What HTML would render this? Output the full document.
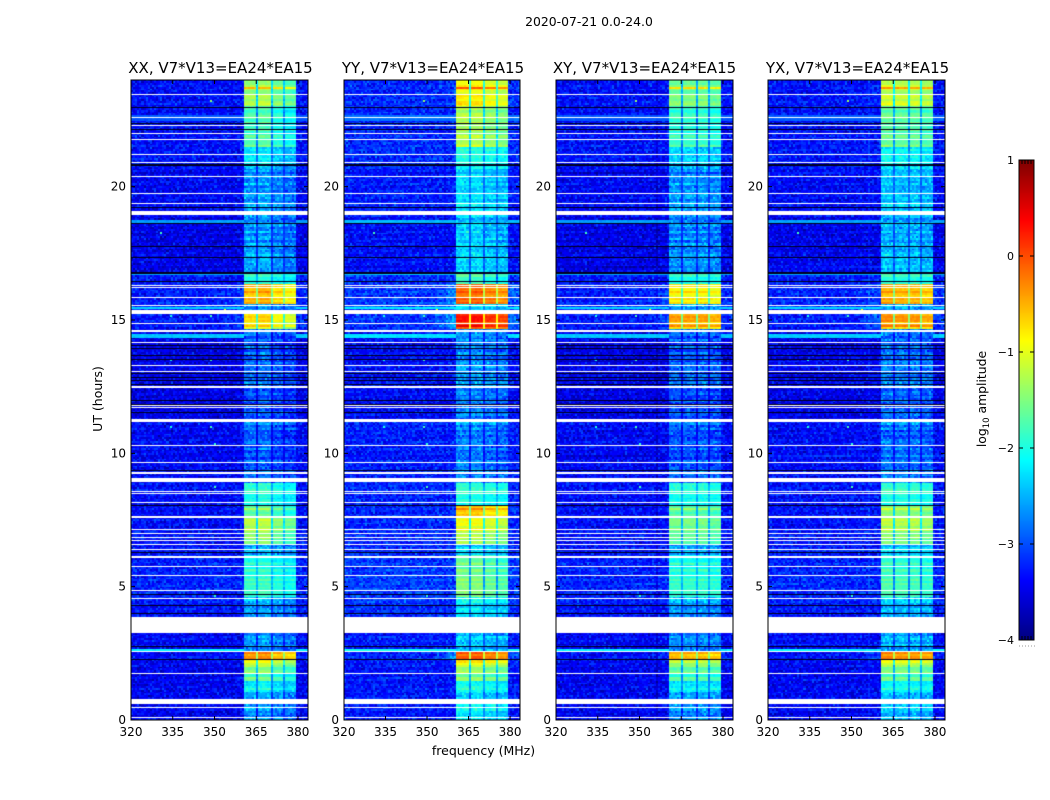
<!DOCTYPE html>
<html lang="en">
<head>
<meta charset="utf-8">
<title>2020-07-21 dynamic spectra</title>
<style>
html,body{margin:0;padding:0;background:#fff;}
#figure{position:relative;width:1050px;height:800px;overflow:hidden;background:#fff;font-family:"DejaVu Sans","Liberation Sans",sans-serif;}
canvas{position:absolute;top:80px;}
svg{position:absolute;left:0;top:0;}
text{fill:#000;font-family:"DejaVu Sans","Liberation Sans",sans-serif;}
</style>
</head>
<body>
<div id="figure">
<svg id="overlay" width="1050" height="800">
<text x="589" y="26" font-size="12.4" text-anchor="middle">2020-07-21 0.0-24.0</text>
<text x="483.5" y="755" font-size="12.5" text-anchor="middle">frequency (MHz)</text>
<text transform="translate(102,399) rotate(-90)" font-size="12.5" text-anchor="middle">UT (hours)</text>
<text transform="translate(986,399) rotate(-90)" font-size="12.4" text-anchor="middle">log<tspan font-size="8.5" dy="3">10</tspan><tspan dy="-3"> amplitude</tspan></text>
</svg>
</div>
<script>
// ---- data: polarisation panels ----
const panelNames = ['XX', 'YY', 'XY', 'YX'];
const baselineLabel = 'V7*V13=EA24*EA15';
const xTicks = [320, 335, 350, 365, 380];
const yTicks = [0, 5, 10, 15, 20];
const colorbarTicks = [1, 0, -1, -2, -3, -4];

// start of each time segment (UT hours); last entry closes the final segment
const segmentStart = [0, 0.8, 1.1, 1.45, 1.75, 2.05, 2.3, 2.6, 3.86, 4.6, 6.2, 6.6, 7.1, 7.6, 8.05, 8.85, 9.4, 11.1, 11.3, 14.55, 14.65, 15.2, 15.6, 16.35, 16.8, 18.9, 20.8, 21.5, 23, 24];

// log10 amplitude in the 360-380 MHz bands, per segment
const bandXX = [-2.7, -2.65, -2.2, -1.75, -1.5, -1.05, -0.4, -2.7, -2.6, -1.95, -2.5, -1.55, -1.3, -1.6, -2.0, -2.9, -2.95, -2.7, -2.95, -2.6, -0.9, -2.6, -0.55, -2.0, -2.65, -2.6, -2.35, -1.8, -1.4];
const bandYY = [-2.25, -2.45, -2.1, -1.6, -1.4, -0.9, -0.2, -2.45, -2.25, -1.65, -2.35, -1.4, -1.05, -0.6, -2.0, -2.8, -2.8, -2.55, -2.75, -2.55, 0.05, -2.25, -0.2, -1.9, -2.4, -2.3, -2.1, -1.35, -0.95];
const bandXY = [-2.7, -2.65, -2.2, -1.8, -1.6, -1.25, -0.55, -2.7, -2.6, -1.95, -2.5, -1.7, -1.55, -1.6, -2.0, -2.9, -2.95, -2.7, -2.95, -2.6, -0.55, -2.5, -0.8, -2.0, -2.7, -2.6, -2.4, -1.85, -1.55];
const bandYX = [-2.45, -2.5, -2.1, -1.7, -1.5, -1.05, -0.35, -2.55, -2.45, -1.85, -2.35, -1.55, -1.25, -1.35, -1.95, -2.8, -2.85, -2.6, -2.85, -2.55, -0.5, -2.45, -0.5, -1.95, -2.5, -2.4, -2.2, -1.65, -1.2];

// out-of-band background and the rise toward the band edge, per segment
const backgroundLevel = [-3.45, -3.45, -3.45, -3.45, -3.45, -3.4, -3.35, -3.4, -3.3, -3.25, -3.3, -3.35, -3.35, -3.35, -3.35, -3.4, -3.4, -3.35, -3.5, -3.3, -3.3, -3.2, -3.25, -3.3, -3.5, -3.4, -3.35, -3.35, -3.35];
const shoulderLevel = [0, 0, 0, 0, 0, 0.1, 0.5, 0, 0, 0, 0, 0, 0, 0.1, 0, 0, 0, 0, 0, 0, 0.6, 0.3, 0.4, 0, 0, 0, 0, 0, 0.1];

// per-panel offsets
const panelBackgroundOffset = [0, 0.14, 0, 0.03];
const panelShoulderScale = [0.35, 1.0, 0.4, 0.5];
const subBandOffsetXX = [0.05, 0.1, -0.15, -0.3];
const subBandOffsetYY = [0.1, 0.1, -0.05, -0.15];
const subBandOffsetXY = [0, 0, 0, -0.1];
const subBandOffsetYX = [0.05, 0, 0, -0.1];

// sub-band edges (MHz)
const subBandLow = [360.4, 365.6, 370.7, 375.4];
const subBandHigh = [365.0, 369.9, 374.6, 379.6];

// flagged (blank) integrations, UT hours
const flaggedThin = [23.46, 22.63, 22.31, 22.01, 21.79, 21.21, 20.93, 20.40, 19.76, 19.39, 16.31, 16.24, 15.85, 15.57, 14.88, 14.16, 13.09, 12.52, 12.49, 11.81, 11.75, 10.30, 9.66, 8.60, 8.53, 8.19, 7.15, 7.00, 6.85, 6.75, 6.60, 6.40, 6.16, 6.10, 5.76, 5.42, 4.86, 4.56, 2.59, 1.75, 0.47, 0.10];
const flaggedSpanStart = [18.94, 15.22, 14.55, 13.27, 11.18, 9.24, 8.94, 7.59, 3.26, 0.60];
const flaggedSpanEnd = [19.10, 15.37, 14.64, 13.33, 11.29, 9.31, 9.07, 7.66, 3.86, 0.79];

// zero-amplitude integrations, UT hours
const zeroRows = [22.99, 22.4, 22.15, 20.85, 20.81, 19.25, 18.64, 17.77, 17.36, 16.8, 16.76, 16.46, 14.06, 13.95, 13.69, 13.54, 13.02, 12.87, 12.75, 12.59, 12.0, 11.85, 11.56, 9.37, 8.05, 6.31, 4.71, 4.33, 4.03, 2.76, 2.27];

// bright broadband integrations
const brightStart = [2.55, 11.12, 14.34, 15.38, 16.65, 18.6, 22.5];
const brightEnd = [2.65, 11.17, 14.47, 15.5, 16.75, 18.72, 22.7];
const brightLevel = [-2.2, -2.2, -2.4, -2.35, -2.55, -2.6, -2.95];

// in-band hot integrations: UT and added log10 amplitude
const hotRowUT = [23.7, 23.05, 16.25, 15.8, 15.1, 14.8, 2.5, 2.15, 7.9, 7.3];
const hotRowBoost = [0.8, 0.25, 0.2, 0.15, 0.25, 0.25, 0.3, 0.2, 0.1, 0.15];

// isolated spikes
const spikeFreq = [348.4, 330.4, 334, 348.4, 334, 348.4, 353.4, 334, 348.4, 349.8, 349.8, 349.8];
const spikeUT = [23.25, 18.3, 15.19, 15.19, 13.54, 13.54, 15.41, 11.03, 11.03, 10.39, 8.78, 4.69];
const spikeLevel = [-1.4, -1.8, -2.0, -1.8, -2.0, -1.8, -0.9, -2.0, -1.8, -1.9, -1.8, -1.9];

// repeating cell-noise texture (hand-written, not read per cell from the reference)
const grainA = [0.3, -0.8, 0.6, -0.1, 0.9, -0.5, 0.1, -0.9, 0.4, 0.7, -0.3, -0.6, 0.8, 0.0, -0.7, 0.5, -0.2, 1.0, -0.4, 0.2, -1.0, 0.6, -0.6, 0.3, 0.9, -0.1, -0.8, 0.4, 0.1, -0.5, 0.7, -0.3, -0.9, 0.8, 0.2, -0.4, 0.5, -0.7, 1.0, -0.2, 0.0, -0.6, 0.6, 0.3, -1.0, 0.9, -0.1, 0.4, -0.8, 0.7, -0.5, 0.2, -0.3, 0.5, -0.9, 0.8, 0.1, -0.4, 0.6, -0.7, 0.2];
const grainB = [-0.4, 0.7, 0.1, -0.9, 0.5, 0.9, -0.2, -0.6, 0.3, 1.0, -0.8, 0.2, -0.1, 0.6, -0.5, 0.8, -1.0, 0.4, 0.0, -0.7, 0.9, -0.3, 0.5, -0.9, 0.2, 0.7, -0.4, -0.1, 1.0, -0.6, 0.3, -0.8, 0.6, 0.1, -0.5, 0.8, -0.2, -1.0, 0.4, 0.9, -0.7, 0.0, 0.5, -0.3, 0.7, -0.9, 0.2, 0.6, -0.1, -0.6, 0.8, -0.4, 0.3];

// ---- scales ----
const panelLeft = [131, 344, 556, 768];
const panelWidth = [177, 176, 177, 177];
const plotTop = 80;
const plotHeight = 640;
const freqMin = 320;
const freqMax = 383.6;
const utMax = 24;
const channelMHz = 0.75;
const rowHours = 0.0667;
const bandTables = [bandXX, bandYY, bandXY, bandYX];
const subBandTables = [subBandOffsetXX, subBandOffsetYY, subBandOffsetXY, subBandOffsetYX];

function xScale(p, f) { return (f - freqMin) / (freqMax - freqMin) * panelWidth[p]; }
function yScale(ut) { return (utMax - ut) / utMax * plotHeight; }

function jetChannel(v) { return Math.max(0, Math.min(1, 1.5 - Math.abs(v))); }
function jet(t) {
  t = Math.max(0, Math.min(1, t));
  const r = jetChannel(4 * t - 3);
  const g = jetChannel(4 * t - 2);
  const b = jetChannel(4 * t - 1);
  return 'rgb(' + Math.round(r * 255) + ',' + Math.round(g * 255) + ',' + Math.round(b * 255) + ')';
}
function levelColor(level) { return jet((level + 4) / 5); }

function segmentIndex(ut) {
  for (let i = segmentStart.length - 2; i >= 0; i--) {
    if (ut >= segmentStart[i]) return i;
  }
  return 0;
}

function cellLevel(p, r, c, ut, f) {
  const seg = segmentIndex(ut);
  const n1 = grainA[(r * 7 + c * 3 + p * 17) % grainA.length];
  const n2 = grainB[(r * 5 + c * 11 + r * c + p * 9) % grainB.length];
  const noise = (n1 + n2) * 0.5;
  const rowStripe = grainA[(r * 13) % grainA.length];
  let level = backgroundLevel[seg] + panelBackgroundOffset[p] + noise * 0.45 + rowStripe * 0.06;

  if (f < subBandLow[0] && f > 352) {
    level += (f - 352) / 8 * shoulderLevel[seg] * panelShoulderScale[p];
  }
  if (f > subBandHigh[3]) {
    level += 0.4 * shoulderLevel[seg] * panelShoulderScale[p];
  }

  if (f >= subBandLow[0] && f <= subBandHigh[3]) {
    const base = bandTables[p][seg];
    const faint = base < -1.9;
    const noiseAmp = faint ? Math.min(0.42, 0.12 + (-1.9 - base) * 0.5) : 0.12;
    let inSub = false;
    for (let b = 0; b < subBandLow.length; b++) {
      if (f >= subBandLow[b] && f <= subBandHigh[b]) {
        level = base + subBandTables[p][b] * (faint ? 0.6 : 1) + noise * noiseAmp + rowStripe * 0.2;
        inSub = true;
      }
    }
    if (!inSub) {
      level = base - (faint ? 0.5 : 0.95) + noise * 0.2;
    }
    for (let h = 0; h < hotRowUT.length; h++) {
      if (Math.abs(ut - hotRowUT[h]) < rowHours / 2 && inSub) level += hotRowBoost[h];
    }
  }
  for (let b = 0; b < brightStart.length; b++) {
    if (ut >= brightStart[b] && ut <= brightEnd[b] && (f < subBandLow[0] || f > subBandHigh[3])) {
      level = brightLevel[b] + panelBackgroundOffset[p] + noise * 0.1;
    }
  }
  return level;
}

const figure = document.getElementById('figure');
const overlay = document.getElementById('overlay');
const svgNS = 'http://www.w3.org/2000/svg';

function drawHeatmap(p) {
  const canvas = document.createElement('canvas');
  
  
  canvas.width = panelWidth[p];
  canvas.height = plotHeight;
  canvas.style.left = panelLeft[p] + 'px';
  const ctx = canvas.getContext('2d');
  const rows = Math.ceil(utMax / rowHours);
  const chans = Math.ceil((freqMax - freqMin) / channelMHz);
  for (let r = 0; r < rows; r++) {
    const ut = r * rowHours;
    const y1 = Math.round(yScale(ut));
    const y0 = Math.round(yScale(ut + rowHours));
    for (let c = 0; c < chans; c++) {
      const f = freqMin + c * channelMHz;
      const x0 = Math.round(xScale(p, f));
      const x1 = Math.round(xScale(p, f + channelMHz));
      ctx.fillStyle = levelColor(cellLevel(p, r, c, ut + rowHours / 2, f + channelMHz / 2));
      ctx.fillRect(x0, y0, x1 - x0, y1 - y0);
    }
  }
  spikeFreq.forEach(function (f, i) {
    ctx.fillStyle = levelColor(spikeLevel[i]);
    ctx.fillRect(Math.round(xScale(p, f)), Math.round(yScale(spikeUT[i])), 2, 2);
  });
  ctx.fillStyle = '#00001e';
  zeroRows.forEach(function (ut) {
    ctx.fillRect(0, Math.round(yScale(ut)), panelWidth[p], 1);
  });
  ctx.fillStyle = '#ffffff';
  flaggedThin.forEach(function (ut) {
    ctx.fillRect(0, Math.round(yScale(ut)), panelWidth[p], 1);
  });
  flaggedSpanStart.forEach(function (ut, i) {
    const yTop = Math.round(yScale(flaggedSpanEnd[i]));
    ctx.fillRect(0, yTop, panelWidth[p], Math.round(yScale(ut)) - yTop);
  });
  figure.insertBefore(canvas, overlay);
}

function addLine(x1, y1, x2, y2, stroke, name) {
  const el = document.createElementNS(svgNS, 'line');
  
  
  el.setAttribute('x1', x1);
  el.setAttribute('y1', y1);
  el.setAttribute('x2', x2);
  el.setAttribute('y2', y2);
  el.setAttribute('stroke', stroke);
  el.setAttribute('stroke-width', '1');
  overlay.appendChild(el);
}

function addText(x, y, str, size, anchor, name) {
  const el = document.createElementNS(svgNS, 'text');
  
  
  el.setAttribute('x', x);
  el.setAttribute('y', y);
  el.setAttribute('font-size', size);
  el.setAttribute('text-anchor', anchor);
  el.textContent = str;
  overlay.appendChild(el);
}

function addFrame(x, y, w, h, name) {
  const el = document.createElementNS(svgNS, 'rect');
  
  
  el.setAttribute('x', x);
  el.setAttribute('y', y);
  el.setAttribute('width', w);
  el.setAttribute('height', h);
  el.setAttribute('fill', 'none');
  el.setAttribute('stroke', '#000');
  el.setAttribute('stroke-width', '1');
  overlay.appendChild(el);
}

function drawAxes(p) {
  const left = panelLeft[p];
  const w = panelWidth[p];
  const key = panelNames[p].toLowerCase();
  addFrame(left, plotTop, w, plotHeight, 'plot-frame-' + key);
  addText(left + w / 2 + (p === 2 ? 0 : 1), 73, panelNames[p] + ', ' + baselineLabel, 15, 'middle', 'panel-title-' + key);
  xTicks.forEach(function (f) {
    const x = left + xScale(p, f);
    addLine(x, plotTop + plotHeight, x, plotTop + plotHeight - 4, '#000', 'x-tick-bottom-' + f);
    addLine(x, plotTop, x, plotTop + 4, '#000', 'x-tick-top-' + f);
    addText(x, 736, String(f), 12, 'middle', 'x-tick-label-' + f);
  });
  yTicks.forEach(function (t) {
    const y = plotTop + yScale(t);
    addLine(left, y, left + 4, y, '#000', 'y-tick-left-' + t);
    addLine(left + w, y, left + w - 4, y, '#000', 'y-tick-right-' + t);
    addText(left - 5, y + 4, String(t), 12, 'end', 'y-tick-label-' + t);
  });
}

function drawColorbar() {
  const barX = 1019;
  const barW = 15;
  const barY = 160;
  const barH = 480;
  const levelMax = 1;
  const levelMin = -4;
  function cbScale(level) { return barY + (levelMax - level) / (levelMax - levelMin) * barH; }

  const cv = document.createElement('canvas');
  
  
  cv.width = barW;
  cv.height = barH;
  cv.style.left = barX + 'px';
  cv.style.top = barY + 'px';
  const ctx = cv.getContext('2d');
  for (let y = 0; y < barH; y++) {
    ctx.fillStyle = jet(1 - y / barH);
    ctx.fillRect(0, y, barW, 1);
  }
  figure.insertBefore(cv, overlay);
  addFrame(barX, barY, barW, barH, 'colorbar-frame');

  colorbarTicks.forEach(function (t) {
    const y = cbScale(t);
    const label = t < 0 ? '\u2212' + Math.abs(t) : String(t);
    addText(barX - 5, y + 4, label, 11, 'end', 'colorbar-tick-label-' + t);
    addLine(barX, y, barX + 4, y, '#000', 'colorbar-tick-left-' + t);
    addLine(barX + barW, y, barX + barW - 4, y, '#000', 'colorbar-tick-right-' + t);
  });
  for (let i = 1; i < 5; i++) {
    const x = barX + i * 3;
    addLine(x, barY, x, barY + 4, '#000', 'colorbar-top-tick');
    addLine(x, barY + barH, x, barY + barH - 4, '#000', 'colorbar-bottom-tick');
  }
  for (let i = 0; i < 6; i++) {
    addLine(barX + i * 3, 646, barX + i * 3 + 1, 646, '#999', 'colorbar-empty-tick-label');
  }
}

panelNames.forEach(function (name, p) {
  drawHeatmap(p);
  drawAxes(p);
});
drawColorbar();
</script>
</body>
</html>
